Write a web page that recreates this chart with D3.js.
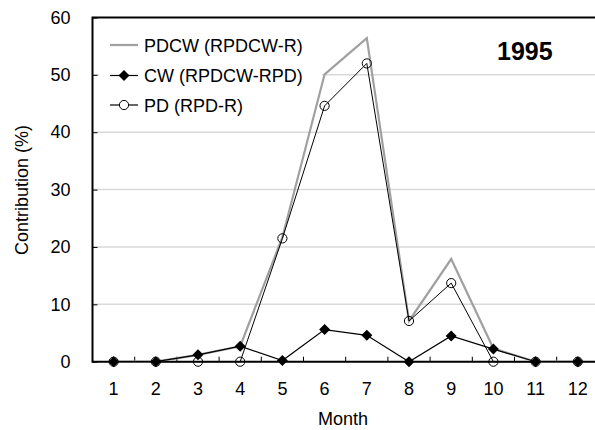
<!DOCTYPE html>
<head>
<meta charset="utf-8">
<style>
body { margin: 0; background: #fff; }
text { font-family: Arial, "Liberation Sans", sans-serif; fill: #000; }
.grid line { stroke: #d9d9d9; stroke-width: 1.5px; }
</style>
</head>
<body>
<script src="https://cdn.jsdelivr.net/npm/d3@7/dist/d3.min.js"></script>
<script>

// data
var months = [1, 2, 3, 4, 5, 6, 7, 8, 9, 10, 11, 12];
var pdcw = [0, 0, 1.2, 2.7, 21.7, 50.1, 56.4, 7.1, 17.9, 2.3, 0, 0];
var cw   = [0, 0, 1.2, 2.7, 0.2, 5.6, 4.6, 0, 4.5, 2.2, 0, 0];
var pd   = [0, 0, 0, 0, 21.5, 44.6, 52, 7.1, 13.7, 0, 0, 0];
var yTicks = [0, 10, 20, 30, 40, 50, 60];
var seriesNames = ["PDCW (RPDCW-R)", "CW (RPDCW-RPD)", "PD (RPD-R)"];
var yearLabel = "1995";

// plot box (right edge runs past the window, like the original)
var margin = {top: 17.5, left: 92.5},
    bandW = 42.2,
    width = bandW * months.length,
    height = 344.2;

var svg = d3.select("body").append("svg")
    .attr("width", 595)
    .attr("height", 430);

var g = svg.append("g")
    .attr("transform", "translate(" + margin.left + "," + margin.top + ")");

var x = d3.scaleBand().domain(months).range([0, width]).padding(0);
var y = d3.scaleLinear().domain([0, 60]).range([height, 0]);
var cx = function(m) { return x(m) + x.bandwidth() / 2; };

// gridlines
g.append("g").attr("class", "grid")
  .selectAll("line")
  .data(yTicks.filter(function(t) { return t > 0 && t < 60; }))
  .enter().append("line")
    .attr("x1", 0).attr("x2", width)
    .attr("y1", function(d) { return y(d); })
    .attr("y2", function(d) { return y(d); });

// legend background hides the gridline behind it (drawn under the data)
g.append("rect")
    .attr("x", 99 - margin.left).attr("y", 28 - margin.top)
    .attr("width", 223).attr("height", 92)
    .attr("fill", "#fff");

// y axis, ticks pointing inward
var yAxis = g.append("g")
    .call(d3.axisLeft(y).tickValues(yTicks).tickSize(-5).tickPadding(22));
yAxis.select(".domain").remove();
yAxis.selectAll("text").style("font-size", "18px");
yAxis.selectAll("line").attr("stroke", "#000");

// x axis labels
var xAxis = g.append("g")
    .attr("transform", "translate(0," + height + ")")
    .call(d3.axisBottom(x).tickSize(0).tickPadding(20.5));
xAxis.select(".domain").remove();
xAxis.selectAll("text").style("font-size", "18px");

// x ticks between categories, pointing up
g.append("g").selectAll("line")
  .data(months.slice(1))
  .enter().append("line")
    .attr("x1", function(d) { return x(d); })
    .attr("x2", function(d) { return x(d); })
    .attr("y1", height).attr("y2", height - 5)
    .attr("stroke", "#000");

// frame: left, bottom and top
g.append("path")
    .attr("d", "M" + width + ",0H0V" + height + "H" + width)
    .attr("fill", "none")
    .attr("stroke", "#000")
    .attr("stroke-width", 2);

var diamond = "M0,-5.5L5.5,0L0,5.5L-5.5,0Z";

function lineOf(vals) {
  return d3.line()
    .x(function(d, i) { return cx(months[i]); })
    .y(function(d) { return y(d); })(vals);
}

// PDCW - gray line
g.append("path")
    .attr("d", lineOf(pdcw))
    .attr("fill", "none")
    .attr("stroke", "#a0a0a0")
    .attr("stroke-width", 2.2);

// CW - black diamonds
g.append("path")
    .attr("d", lineOf(cw))
    .attr("fill", "none")
    .attr("stroke", "#000")
    .attr("stroke-width", 1.2);
g.append("g").selectAll("path")
  .data(cw)
  .enter().append("path")
    .attr("d", diamond)
    .attr("transform", function(d, i) { return "translate(" + cx(months[i]) + "," + y(d) + ")"; })
    .attr("fill", "#000");

// PD - open circles
g.append("path")
    .attr("d", lineOf(pd))
    .attr("fill", "none")
    .attr("stroke", "#000")
    .attr("stroke-width", 1);
g.append("g").selectAll("circle")
  .data(pd)
  .enter().append("circle")
    .attr("cx", function(d, i) { return cx(months[i]); })
    .attr("cy", function(d) { return y(d); })
    .attr("r", 4.6)
    .attr("fill", "none")
    .attr("stroke", "#000")
    .attr("stroke-width", 1);

// legend entries
var legY = [45, 75.5, 105];
var leg = svg.append("g").selectAll("g")
  .data(seriesNames)
  .enter().append("g")
    .attr("transform", function(d, i) { return "translate(110," + legY[i] + ")"; });
leg.append("line")
    .attr("x1", 0).attr("x2", 28)
    .attr("stroke", function(d, i) { return i == 0 ? "#a0a0a0" : "#000"; })
    .attr("stroke-width", function(d, i) { return i == 0 ? 2.2 : 1.2; });
leg.filter(function(d, i) { return i == 1; }).append("path")
    .attr("d", diamond)
    .attr("transform", "translate(14,0)");
leg.filter(function(d, i) { return i == 2; }).append("circle")
    .attr("cx", 14).attr("r", 4.6)
    .attr("fill", "#fff").attr("stroke", "#000");
leg.append("text")
    .attr("x", 34).attr("y", 6.5)
    .style("font-size", "18px")
    .text(function(d) { return d; });

// year label
svg.append("text")
    .attr("x", 497).attr("y", 60)
    .style("font-size", "25px")
    .style("font-weight", "bold")
    .text(yearLabel);

// axis titles
svg.append("text")
    .attr("x", 343).attr("y", 425)
    .attr("text-anchor", "middle")
    .style("font-size", "18px")
    .text("Month");

svg.append("text")
    .attr("transform", "translate(28,190) rotate(-90)")
    .attr("text-anchor", "middle")
    .style("font-size", "18px")
    .text("Contribution (%)");

</script>
</body>
